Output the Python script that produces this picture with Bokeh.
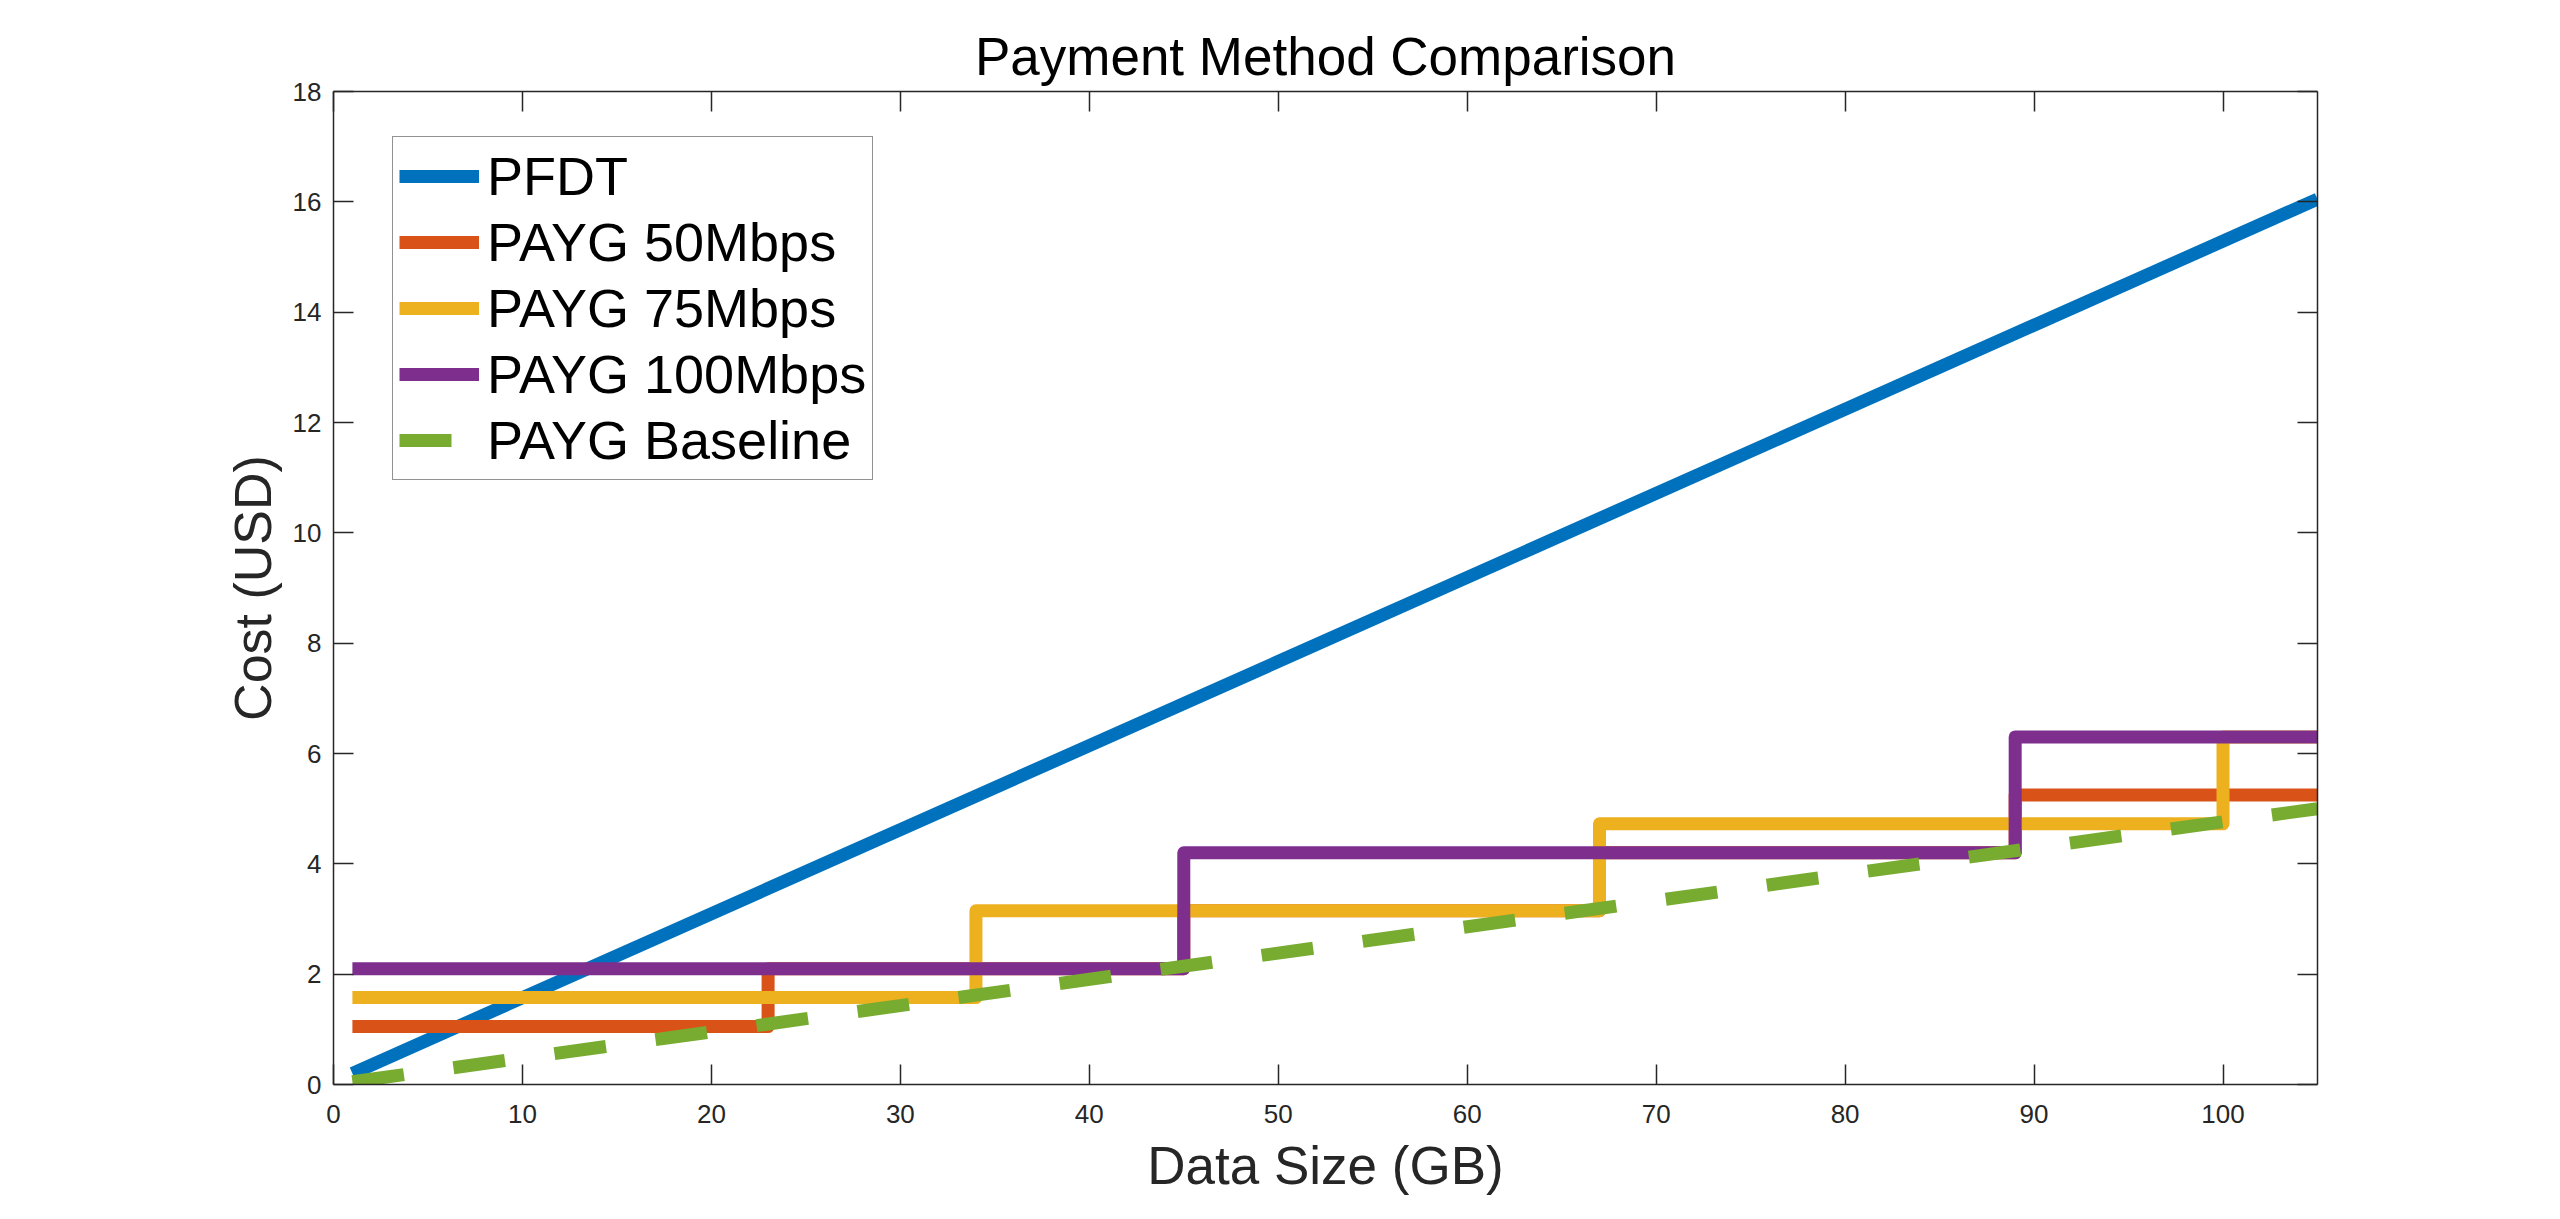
from bokeh.plotting import figure
from bokeh.models import Range1d, FixedTicker, LinearAxis, Legend, LegendItem
from bokeh.embed import file_html
from bokeh.resources import INLINE

# ---------------- data ----------------
pfdt_x = [1, 105]
pfdt_y = [0.2, 16.05]

payg50_x = [1, 23, 45, 67, 89, 105]
payg50_y = [1.05, 2.1, 3.15, 4.2, 5.25, 5.25]

payg75_x = [1, 34, 67, 100, 105]
payg75_y = [1.575, 3.15, 4.725, 6.3, 6.3]

payg100_x = [1, 45, 89, 105]
payg100_y = [2.1, 4.2, 6.3, 6.3]

baseline_x = [1, 105]
baseline_y = [0.05, 5.0]

x_ticks = [0, 10, 20, 30, 40, 50, 60, 70, 80, 90, 100]
y_ticks = [0, 2, 4, 6, 8, 10, 12, 14, 16, 18]

labels = ["PFDT", "PAYG 50Mbps", "PAYG 75Mbps", "PAYG 100Mbps", "PAYG Baseline"]
colors = ["#0072BD", "#D95319", "#EDB120", "#7E2F8E", "#77AC30"]

FONT = "Liberation Sans"
AXC = "#262626"
LW = 13

p = figure(width=2544, height=1203, output_backend="svg", toolbar_location=None,
           x_range=Range1d(0, 105), y_range=Range1d(0, 18),
           min_border_left=333, min_border_right=227,
           min_border_top=91, min_border_bottom=119,
           title="Payment Method Comparison")

p.background_fill_color = "white"
p.border_fill_color = "white"
p.outline_line_color = None
p.xgrid.visible = False
p.ygrid.visible = False

p.title.align = "center"
p.title.text_font = FONT
p.title.text_font_size = "53px"
p.title.text_font_style = "normal"
p.title.text_color = "black"
p.title.standoff = 12


def style_axis(ax, show_labels=True):
    ax.axis_line_color = AXC
    ax.axis_line_width = 1.5
    ax.major_tick_line_color = AXC
    ax.major_tick_line_width = 1.5
    ax.major_tick_in = 20
    ax.major_tick_out = 0
    ax.minor_tick_line_color = None
    ax.major_label_text_font = FONT
    if show_labels:
        ax.major_label_text_font_size = "26px"
        ax.major_label_text_color = AXC
    else:
        ax.major_label_text_font_size = "1px"
        ax.major_label_text_color = None
    ax.axis_label_text_font = FONT
    ax.axis_label_text_font_size = "53px"
    ax.axis_label_text_font_style = "normal"
    ax.axis_label_text_color = AXC


xa = p.xaxis[0]
ya = p.yaxis[0]
xa.ticker = FixedTicker(ticks=x_ticks)
ya.ticker = FixedTicker(ticks=y_ticks)
style_axis(xa)
style_axis(ya)
xa.axis_label = "Data Size (GB)"
ya.axis_label = "Cost (USD)"
ya.axis_label_text_font_size = "52px"
xa.major_label_standoff = 20
ya.major_label_standoff = 12
xa.axis_label_standoff = 10
ya.axis_label_standoff = 8

top_ax = LinearAxis(ticker=FixedTicker(ticks=x_ticks))
style_axis(top_ax, show_labels=False)
top_ax.major_label_standoff = 0
right_ax = LinearAxis(ticker=FixedTicker(ticks=y_ticks))
style_axis(right_ax, show_labels=False)
right_ax.major_label_standoff = 0
p.add_layout(top_ax, "above")
p.add_layout(right_ax, "right")

r_pfdt = p.line(pfdt_x, pfdt_y, line_color=colors[0], line_width=LW,
                line_join="round", line_cap="butt")
r_50 = p.step(payg50_x, payg50_y, mode="after", line_color=colors[1], line_width=LW,
              line_join="round", line_cap="butt")
r_75 = p.step(payg75_x, payg75_y, mode="after", line_color=colors[2], line_width=LW,
              line_join="round", line_cap="butt")
r_100 = p.step(payg100_x, payg100_y, mode="after", line_color=colors[3], line_width=LW,
               line_join="round", line_cap="butt")
r_base = p.line(baseline_x, baseline_y, line_color=colors[4], line_width=LW,
                line_dash="52 50", line_join="round", line_cap="butt")

renderers = [r_pfdt, r_50, r_75, r_100, r_base]
legend = Legend(items=[LegendItem(label=l, renderers=[r]) for l, r in zip(labels, renderers)],
                location=(59, 604))
legend.label_text_font = FONT
legend.label_text_font_size = "54px"
legend.label_text_color = "black"
legend.glyph_width = 80
legend.glyph_height = 66
legend.label_height = 66
legend.spacing = 0
legend.padding = 6
legend.margin = 0
legend.label_standoff = 8
legend.border_line_color = AXC
legend.border_line_width = 1.5
legend.background_fill_color = "white"
legend.background_fill_alpha = 1.0
p.add_layout(legend)

open("out.html", "w").write(file_html(p, INLINE))
